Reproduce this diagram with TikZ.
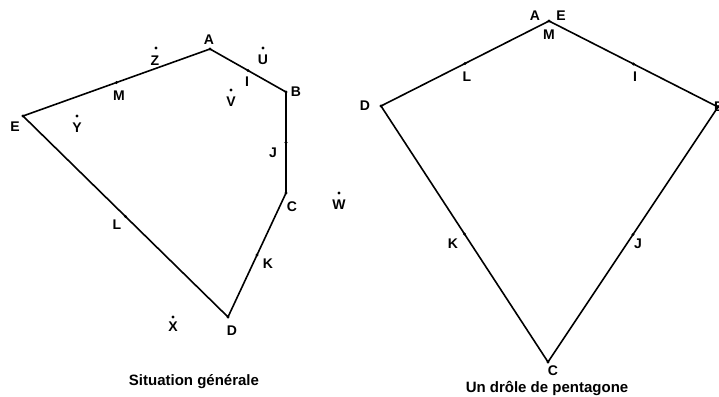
\documentclass[tikz,border=0pt]{standalone}
\usepackage{fontspec}
\setmainfont{Liberation Sans}
\begin{document}
\begin{tikzpicture}[x=1pt,y=-1pt,
  seg/.style={line width=1.6pt, black, line join=miter},
  lbl/.style={font=\bfseries\fontsize{14}{14}\selectfont, inner sep=0pt},
  captxt/.style={font=\bfseries\fontsize{15}{15}\selectfont, inner sep=0pt},
  dotpt/.style={fill=black}]
\useasboundingbox (0,0) rectangle (719,396);
% ---------- left figure: Situation generale ----------
\coordinate (A1) at (210,49);
\coordinate (B1) at (286,92);
\coordinate (C1) at (286,193);
\coordinate (D1) at (228,317);
\coordinate (E1) at (23,116);
\coordinate (I1) at (248,70.5);
\coordinate (J1) at (286,142.5);
\coordinate (K1) at (257,255);
\coordinate (L1) at (125.5,216.5);
\coordinate (M1) at (116.5,82.5);
\coordinate (Z1) at (156,48);
\coordinate (U1) at (263,48);
\coordinate (V1) at (231,90);
\coordinate (W1) at (339,193);
\coordinate (X1) at (173,317);
\coordinate (Y1) at (77,116);
\draw[seg] (A1) -- (B1) -- (C1) -- (D1) -- (E1) -- cycle;
\foreach \p in {A1,B1,C1,D1,E1,I1,J1,K1,L1,M1,Z1,U1,V1,W1,X1,Y1}
  \fill[dotpt] (\p) circle (1.7pt);
\node[lbl] (lA1) at (209,40) {A};
\node[lbl] (lB1) at (296,92) {B};
\node[lbl] (lC1) at (292,207) {C};
\node[lbl] (lD1) at (232,331) {D};
\node[lbl] (lE1) at (15,127) {E};
\node[lbl] (lI1) at (247,82) {I};
\node[lbl] (lJ1) at (273,153) {J};
\node[lbl] (lK1) at (268,264) {K};
\node[lbl] (lL1) at (117,225) {L};
\node[lbl] (lM1) at (119,96) {M};
\node[lbl] (lZ1) at (155,61) {Z};
\node[lbl] (lU1) at (263,60) {U};
\node[lbl] (lV1) at (231,102) {V};
\node[lbl] (lW1) at (339,205) {W};
\node[lbl] (lX1) at (173,327) {X};
\node[lbl] (lY1) at (77,128) {Y};
\node[captxt] (cap1) at (194,382) {Situation générale};
% ---------- right figure: Un drole de pentagone ----------
\coordinate (A2) at (549,21);
\coordinate (B2) at (718,107);
\coordinate (C2) at (548,362);
\coordinate (D2) at (381,106);
\coordinate (I2) at (633.5,64);
\coordinate (J2) at (633,234.5);
\coordinate (K2) at (464.5,234);
\coordinate (L2) at (465,63.5);
\draw[seg] (A2) -- (B2) -- (C2) -- (D2) -- cycle;
\foreach \p in {A2,B2,C2,D2,I2,J2,K2,L2}
  \fill[dotpt] (\p) circle (1.7pt);
\node[lbl] (lA2) at (535,16) {A};
\node[lbl] (lE2) at (561,16) {E};
\node[lbl] (lM2) at (549,35) {M};
\node[lbl, anchor=west] (lB2) at (714,107) {B};
\node[lbl] (lC2) at (553,371) {C};
\node[lbl] (lD2) at (365,106) {D};
\node[lbl] (lI2) at (635,77) {I};
\node[lbl] (lJ2) at (638,244) {J};
\node[lbl] (lK2) at (453,244) {K};
\node[lbl] (lL2) at (467,77) {L};
\node[captxt] (cap2) at (547,388) {Un drôle de pentagone};
\end{tikzpicture}
\end{document}
